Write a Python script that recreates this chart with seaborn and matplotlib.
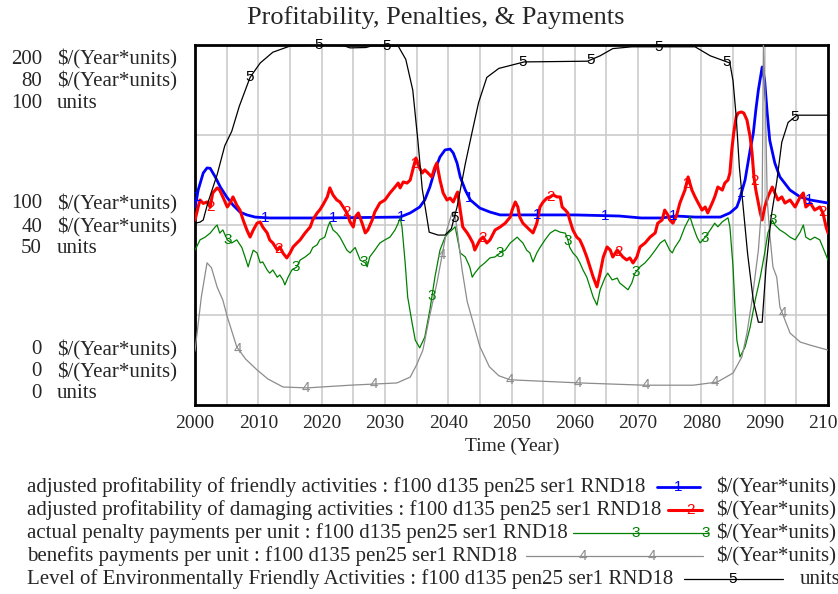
import numpy as np
import pandas as pd
import matplotlib
matplotlib.use("Agg")
import matplotlib.pyplot as plt
from matplotlib.lines import Line2D
import seaborn as sns

# ---- data (years, values in each series' own units) ----
friendly = [(2000.0, 110), (2000.5, 119.4), (2001.3, 128.9), (2001.9, 131.7), (2002.4, 131.5),
            (2003.2, 126.7), (2004.0, 121.1), (2005.0, 115.6), (2006.0, 111.1), (2007.1, 107.2),
            (2008.2, 105.6), (2009.5, 104.4), (2011.8, 103.9), (2020.0, 103.9), (2032.4, 104.4),
            (2034.0, 106.7), (2035.5, 110), (2036.3, 113.9), (2037.1, 121.1), (2037.9, 130.6),
            (2038.7, 137.8), (2039.5, 141.7), (2040.3, 142.2), (2040.8, 140), (2041.4, 134.4),
            (2041.9, 126.7), (2042.7, 119.4), (2043.5, 113.9), (2045.0, 109.4), (2046.6, 107.2),
            (2048.2, 105.6), (2060.0, 105.6), (2067.0, 105), (2070.5, 103.9), (2073.7, 103.9),
            (2076.0, 105), (2079.0, 104.4), (2083.0, 104.4), (2084.5, 106.7), (2085.6, 110),
            (2086.0, 113.9), (2086.9, 125), (2087.7, 141.7), (2088.2, 151), (2088.6, 163.9),
            (2089.0, 175), (2089.6, 187.8), (2090.0, 180), (2090.4, 162), (2090.8, 147),
            (2091.6, 134.4), (2092.4, 126.7), (2094.0, 119.4), (2095.6, 115.6), (2097.2, 113.9),
            (2100.0, 112.2)]

damaging = [(2000.0, 102.8), (2000.5, 110), (2000.8, 113.9), (2001.3, 112), (2001.9, 112.8),
            (2002.4, 110), (2002.8, 117.8), (2003.5, 120.6), (2003.9, 119.4), (2004.4, 115.6),
            (2005.1, 110), (2005.5, 112), (2006.0, 115.6), (2006.6, 111), (2007.1, 108.3),
            (2007.6, 102.8), (2008.2, 97.2), (2008.7, 93.3), (2009.2, 97.2), (2009.8, 101),
            (2010.3, 101.7), (2010.7, 98.9), (2011.4, 95.6), (2011.8, 91.7), (2012.3, 90),
            (2013.0, 86.1), (2013.4, 87.8), (2013.9, 84.4), (2014.5, 81.7), (2015.0, 84.4),
            (2015.5, 87.8), (2016.1, 90), (2016.6, 91.7), (2017.4, 95.6), (2018.2, 98.9),
            (2018.6, 102.8), (2019.3, 106.7), (2019.7, 108.3), (2020.2, 111.1), (2020.9, 115.6),
            (2021.3, 120.6), (2021.8, 116.7), (2022.4, 113.9), (2022.9, 112.8), (2023.4, 110),
            (2024.0, 106.7), (2024.5, 101.7), (2025.0, 98.9), (2025.3, 104.4), (2025.8, 106.7),
            (2026.4, 101), (2026.9, 95.6), (2027.3, 97.2), (2028.0, 102.8), (2028.4, 107.2),
            (2029.2, 112.2), (2030.0, 113.9), (2030.8, 117.8), (2031.6, 121.1), (2032.1, 123.3),
            (2032.4, 120.6), (2032.9, 123.9), (2033.5, 123.3), (2034.0, 125), (2034.4, 130.6),
            (2034.9, 137.2), (2035.4, 132.2), (2035.9, 128.9), (2036.3, 130.6), (2036.8, 128.9),
            (2037.4, 126.7), (2037.9, 132.2), (2038.2, 134.4), (2038.7, 125), (2039.2, 117.8),
            (2039.8, 113.9), (2040.3, 115), (2040.8, 112.8), (2041.4, 117.8), (2041.5, 118.3),
            (2041.9, 108.3), (2042.3, 98.9), (2043.0, 95.6), (2043.4, 93.3), (2043.9, 90),
            (2044.2, 86.1), (2045.0, 91.7), (2045.5, 93.3), (2046.1, 90), (2046.6, 91.7),
            (2047.4, 97.2), (2048.2, 98.9), (2049.0, 101), (2049.8, 104.4), (2050.1, 108.3),
            (2050.6, 112.8), (2051.0, 110), (2051.3, 104.4), (2051.8, 101), (2052.4, 98.9),
            (2052.9, 97.2), (2053.4, 95.6), (2054.0, 101), (2054.5, 110), (2055.0, 112.8),
            (2055.6, 115), (2056.1, 115.6), (2056.6, 116.7), (2057.2, 115.6), (2057.7, 115.6),
            (2058.0, 110), (2058.5, 108.3), (2058.9, 106.7), (2059.2, 102.8), (2059.7, 97.2),
            (2060.3, 93.3), (2060.8, 91.7), (2061.3, 87.8), (2061.9, 82.2), (2062.4, 76.7),
            (2062.9, 71.1), (2063.5, 65.6), (2064.0, 73.3), (2064.5, 82.2), (2065.1, 87.8),
            (2065.6, 86.1), (2066.0, 82.2), (2066.7, 86.1), (2067.1, 84.4), (2067.6, 82.2),
            (2068.2, 80.6), (2068.7, 81.7), (2069.2, 78.9), (2069.8, 82.2), (2070.3, 87.8),
            (2071.1, 90), (2071.9, 93.3), (2072.7, 95.6), (2073.1, 101), (2073.8, 102.8),
            (2074.2, 108.3), (2074.7, 105.6), (2075.0, 102.8), (2075.5, 101), (2076.1, 105.6),
            (2076.6, 112.2), (2077.4, 119.4), (2077.9, 126.7), (2078.5, 119.4), (2079.0, 115.6),
            (2079.5, 112.2), (2080.1, 108.3), (2080.6, 110), (2081.0, 106.7), (2081.7, 112.2),
            (2082.1, 115.6), (2082.6, 121.1), (2083.3, 119.4), (2083.7, 123.3), (2084.2, 125),
            (2084.5, 128.9), (2084.8, 141.7), (2085.1, 151), (2085.5, 160), (2085.8, 162.2),
            (2086.3, 162.8), (2086.7, 162.2), (2087.2, 158.3), (2087.7, 148.9), (2088.0, 140),
            (2088.3, 126.7), (2088.6, 119.4), (2088.9, 113.9), (2089.3, 106.7), (2089.6, 102.8),
            (2090.0, 110), (2090.5, 115.6), (2091.2, 121.1), (2091.6, 117.8), (2092.1, 113.9),
            (2092.7, 115.6), (2093.2, 112.2), (2094.0, 113.9), (2094.8, 110), (2095.6, 115.6),
            (2096.1, 117.8), (2096.5, 110), (2097.2, 112.2), (2097.9, 108.3), (2098.7, 110),
            (2099.2, 106.7), (2099.7, 98.9), (2100.0, 95.6)]

penalty = [(2000.0, 34.4), (2000.8, 36.7), (2001.6, 37.3), (2002.4, 38.2), (2003.2, 39.6),
           (2003.5, 40), (2003.9, 38.2), (2004.4, 38.9), (2005.1, 36.7), (2005.8, 36),
           (2006.6, 36.7), (2007.4, 35), (2007.9, 32.9), (2008.4, 30.7), (2008.7, 32.2),
           (2009.2, 34.4), (2009.8, 33.8), (2010.3, 31.6), (2010.7, 31.8), (2011.4, 30),
           (2011.8, 29.3), (2012.3, 30), (2013.0, 28.4), (2013.4, 28.9), (2013.9, 27.8),
           (2014.2, 26.7), (2014.7, 28.4), (2015.3, 30), (2016.1, 30.7), (2016.6, 32.2),
           (2017.4, 32.9), (2018.2, 33.8), (2018.6, 35), (2019.3, 35.6), (2019.7, 36.7),
           (2020.5, 37.3), (2021.0, 39.6), (2021.3, 40.7), (2021.8, 38.9), (2022.4, 38.2),
           (2022.9, 37.3), (2023.4, 36), (2024.0, 34.4), (2024.5, 33.8), (2025.3, 35),
           (2026.1, 32.2), (2026.9, 31.6), (2027.2, 30.7), (2027.6, 32.9), (2028.4, 34.4),
           (2029.2, 36), (2030.0, 36.7), (2030.8, 37.3), (2031.6, 38.9), (2032.1, 40.4),
           (2032.4, 41.6), (2032.7, 39.6), (2033.2, 31.6), (2033.6, 24), (2034.3, 18.2),
           (2034.8, 14.4), (2035.5, 12.7), (2036.3, 15.1), (2037.1, 21.1), (2037.9, 28.4),
           (2038.7, 34.4), (2039.5, 37.3), (2040.0, 38.2), (2040.6, 38.9), (2041.1, 39.6),
           (2041.5, 36.7), (2041.9, 33.8), (2042.7, 32.9), (2043.4, 30.7), (2043.8, 28.4),
           (2044.2, 29.3), (2045.0, 30.7), (2045.8, 31.6), (2046.6, 32.7), (2047.4, 32.9),
           (2048.2, 33.8), (2049.0, 34.4), (2049.8, 36), (2050.9, 37.3), (2051.3, 36.7),
           (2051.8, 36), (2052.4, 34.4), (2052.9, 33.8), (2053.4, 31.8), (2054.0, 33.8),
           (2054.5, 35), (2055.3, 36.7), (2056.1, 38.2), (2056.9, 38.9), (2057.7, 38.4),
           (2058.5, 38.2), (2058.9, 36.7), (2059.2, 35), (2059.7, 33.8), (2060.3, 32.9),
           (2060.8, 31.6), (2061.3, 30), (2061.9, 28.4), (2062.4, 26.2), (2062.9, 24),
           (2063.5, 22.2), (2064.0, 25.6), (2064.8, 28.4), (2065.2, 29.3), (2065.9, 27.8),
           (2066.7, 28.2), (2067.1, 27.1), (2067.9, 26.2), (2068.4, 25.6), (2069.0, 27.1),
           (2069.5, 29.3), (2070.3, 30.7), (2071.1, 31.6), (2071.9, 32.9), (2072.7, 34.4),
           (2073.5, 36), (2074.2, 36.7), (2075.0, 34.4), (2075.4, 33.8), (2075.8, 35),
           (2076.6, 36.7), (2077.4, 39.6), (2078.2, 41.8), (2078.7, 39.6), (2079.3, 37.3),
           (2079.8, 36), (2080.6, 37.3), (2081.4, 38.9), (2082.1, 40.4), (2082.6, 39.6),
           (2083.3, 40.7), (2084.2, 41.6), (2084.5, 39.6), (2085.0, 30.7), (2085.3, 21.8),
           (2085.6, 14.4), (2086.1, 10.7), (2086.9, 12.9), (2087.7, 17.3), (2088.5, 23.3),
           (2089.3, 28.4), (2090.0, 33.8), (2090.5, 38.2), (2091.2, 41.1), (2091.6, 40),
           (2092.4, 38.9), (2093.2, 38.2), (2094.0, 37.3), (2094.8, 36.7), (2095.6, 38.4),
           (2096.1, 40), (2096.5, 37.3), (2097.2, 36.7), (2097.9, 37.3), (2098.7, 36.7),
           (2099.2, 35), (2100.0, 32.2)]

benefits = [(2000.0, 12), (2001.0, 24), (2001.9, 31.6), (2002.6, 30.5), (2003.5, 26.2),
            (2004.4, 23.3), (2005.1, 19.6), (2006.6, 12.9), (2008.0, 10.2), (2009.8, 7.8),
            (2011.5, 5.8), (2013.9, 4.0), (2017.7, 3.8), (2024.5, 4.4), (2031.9, 4.9),
            (2034.0, 6.2), (2035.0, 8.9), (2036.0, 12.2), (2037.0, 19.3), (2038.2, 27),
            (2039.8, 39), (2040.6, 42.7), (2041.0, 43), (2041.4, 39), (2042.2, 30),
            (2043.0, 23), (2045.0, 13), (2046.5, 8.5), (2048.0, 6.5), (2049.8, 5.6),
            (2060.8, 4.9), (2071.0, 4.4), (2078.7, 4.4), (2082.5, 5.1), (2085.0, 7.1),
            (2086.4, 10.7), (2087.2, 16), (2088.0, 23.3), (2089.0, 34.4), (2089.6, 45.6),
            (2089.8, 80), (2090.1, 68), (2090.4, 45.6), (2090.8, 38), (2091.3, 30.7),
            (2091.9, 28.4), (2092.4, 21.8), (2094.0, 16), (2095.6, 14), (2097.2, 13.3),
            (2100.0, 12.2)]

level = [(2000.0, 50.5), (2000.8, 50.8), (2001.3, 51.4), (2002.0, 56), (2003.5, 64),
         (2004.7, 72), (2005.8, 76), (2007.0, 83), (2008.7, 91), (2010.3, 95),
         (2012.3, 98), (2015.0, 99.7), (2020.0, 100), (2023.5, 99.8), (2024.5, 99.2),
         (2027.0, 99.3), (2028.0, 99.8), (2032.1, 99.7), (2033.3, 96), (2034.4, 87.5),
         (2035.2, 73.6), (2035.9, 60), (2037.0, 48), (2038.4, 47.2), (2039.5, 47.2),
         (2040.5, 49), (2041.4, 55), (2042.7, 67), (2043.8, 76), (2044.8, 84),
         (2046.1, 91), (2048.0, 93.5), (2052.0, 95.3), (2062.0, 95.5), (2064.0, 97),
         (2066.0, 99), (2069.0, 99.5), (2079.0, 99.5), (2081.4, 97), (2084.5, 95),
         (2085.0, 90), (2085.5, 80), (2086.0, 66), (2086.6, 55), (2087.3, 42),
         (2088.2, 29), (2089.0, 23), (2089.6, 23), (2090.2, 38), (2091.0, 52),
         (2091.9, 62), (2092.7, 73), (2093.7, 78.5), (2095.1, 80.5), (2100.0, 80.5)]

# axis scales: (max, mid, min) for the three value scales
scale_labels = [["200", "100", "0"], ["80", "40", "0"], ["100", "50", "0"]]
scale_units = ["$/(Year*units)", "$/(Year*units)", "units"]

run = "f100 d135 pen25 ser1 RND18"
names = ["adjusted profitability of friendly activities",
         "adjusted profitability of damaging activities",
         "actual penalty payments per unit",
         "benefits payments per unit",
         "Level of Environmentally Friendly Activities"]
units = ["$/(Year*units)", "$/(Year*units)", "$/(Year*units)", "$/(Year*units)", "units"]
colors = ["#0000ff", "#ff0000", "#008000", "#8c8c8c", "#000000"]
widths = [2.0, 2.2, 0.9, 0.9, 0.9]
mark_start = [2000.3, 2002.4, 2005.2, 2006.8, 2008.7]
mark_step = 10.75

sns.set_style("white")
plt.rcParams["font.family"] = ["Liberation Serif", "DejaVu Serif"]

W, H = 838, 594
fig = plt.figure(figsize=(W / 100, H / 100), dpi=100)
ax = fig.add_axes([195 / W, 189 / H, 633 / W, 360 / H])
ax2 = ax.twinx()
ax3 = ax.twinx()

series = [friendly, damaging, penalty, benefits, level]
axes_for = [ax, ax, ax2, ax2, ax3]

for i, (data, a) in enumerate(zip(series, axes_for)):
    df = pd.DataFrame(data, columns=["year", "value"])
    sns.lineplot(data=df, x="year", y="value", ax=a, color=colors[i],
                 linewidth=widths[i], estimator=None, sort=False, zorder=3)
    # Vensim style digit markers along the curve
    mx = np.arange(mark_start[i], 2100.01, mark_step)
    my = np.interp(mx, df["year"], df["value"])
    for xx, yy in zip(mx, my):
        a.text(xx, yy, str(i + 1), color=colors[i], fontsize=11,
               family="Liberation Sans", ha="center", va="center", zorder=4)

ax.set_xlim(2000, 2100)
ax.set_ylim(0, 200)
ax2.set_ylim(0, 80)
ax3.set_ylim(0, 100)

ax.set_xticks(np.arange(2000, 2101, 10))
ax.set_xticks(np.arange(2005, 2100, 10), minor=True)
ax.set_yticks([50, 100, 150])
ax.set_yticklabels([])
ax.grid(True, which="both", color="#cccccc", linewidth=1.2)
ax.tick_params(axis="both", which="both", length=0, labelsize=14, pad=7)
ax.set_xlabel("Time (Year)", fontsize=14)
ax.set_ylabel("")
ax.xaxis.set_label_coords((512 - 195) / 633, -0.09)
for s in ax.spines.values():
    s.set_color("black")
    s.set_linewidth(2)
for a in (ax2, ax3):
    a.set_ylabel("")
    a.set_yticks([])
    a.grid(False)
    for s in a.spines.values():
        s.set_visible(False)

# left stacked scale labels
row_y = [[59, 81, 103], [204, 227, 249], [350, 372, 394]]
for level_i in range(3):
    for k in range(3):
        y = 1 - row_y[level_i][k] / H
        fig.text(42 / W, y, scale_labels[k][level_i], fontsize=15, ha="right", va="center")
        fig.text(57 / W, y, scale_units[k], fontsize=15, ha="left", va="center")

fig.text(436 / W, 1 - 18 / H, "Profitability, Penalties, & Payments", fontsize=19,
         ha="center", va="center")

# legend rows
leg_y = [487, 510, 533, 556, 579]
leg_line = [(657, 700), (668, 702), (573, 708), (526, 703), (684, 783)]
leg_marks = [[678], [690], [636, 706], [583, 652], [733]]
units_x = [716, 716, 716, 716, 800]
for i in range(5):
    y = 1 - leg_y[i] / H
    fig.text(27 / W, y, f"{names[i]} : {run}", fontsize=15, ha="left", va="center")
    x0, x1 = leg_line[i]
    fig.add_artist(Line2D([x0 / W, x1 / W], [y, y], color=colors[i],
                          linewidth=widths[i], transform=fig.transFigure))
    for mxp in leg_marks[i]:
        fig.text(mxp / W, y, str(i + 1), color=colors[i], fontsize=11,
                 family="Liberation Sans", ha="center", va="center")
    fig.text(units_x[i] / W, y, units[i], fontsize=15, ha="left", va="center")

fig.savefig("out.png", dpi=100)
